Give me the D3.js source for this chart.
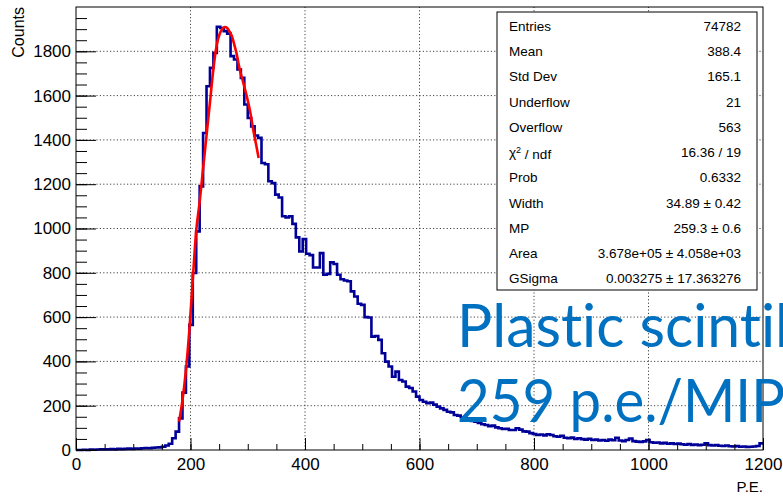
<!doctype html>
<html>
<head>
<script src="https://cdnjs.cloudflare.com/ajax/libs/d3/7.8.5/d3.min.js"></script>
<style>
body { margin: 0; background: #fff; }
text { font-family: "Liberation Sans", Arial, sans-serif; }
.grid line { stroke: #444; stroke-width: 1px; stroke-dasharray: 1.2,2.2; }
.axis path { display: none; }
.axis line { stroke: #000; stroke-width: 1px; }
.axis text { font-size: 17px; fill: #000; }
.stats text { font-size: 13.5px; fill: #000; }
.hist { fill: none; stroke: #000099; stroke-width: 2.6px; }
.fit { fill: none; stroke: #ff0000; stroke-width: 2.6px; }
.overlay { font-family: Lato, "Open Sans", sans-serif; fill: #0070c0; font-size: 60px; font-variant-ligatures: none; }
</style>
</head>
<body>
<svg id="chart" width="783" height="499"></svg>
<script>
// histogram: 200 bins of 6 p.e. from 0 to 1200
var binStart = 0, binWidth = 6;
var counts = [
  0,0,1,0,2,1,2,3,2,3,4,3,5,4,5,6,5,7,6,8,9,8,10,11,12,
  15,20,28,53,83,
  143,259,377,565,799,987,1190,1431,1642,1725,1793,
  1911,1905,1891,1880,1778,1763,1718,1680,1560,1499,1461,1420,1409,
  1296,1290,1213,1205,1153,1140,1055,1050,1055,1021,960,896,952,886,880,824,824,889,791,795,
  847,840,791,771,765,762,716,693,660,655,600,598,512,515,497,437,399,377,331,354,
  316,309,286,280,264,241,
  226,218,211,214,205,196,188,181,173,170,
  158,155,148,143,140,131,128,122,116,113,
  108,110,102,98,95,96,90,90,98,92,
  84,83,76,72,68,70,66,71,68,62,
  60,64,55,53,56,50,53,49,47,51,
  45,47,43,45,42,47,44,55,43,40,
  45,52,40,38,36,39,45,35,33,34,
  30,32,28,30,27,29,26,24,27,23,
  25,22,24,30,22,20,22,19,18,20,
  17,16,18,15,16,14,15,16,18,30
];

// Landau (x) Gauss fit curve
var fitX = [180,186,192,198,204,210,216,222,228,234,240,244,248,252,256,260,264,268,272,276,280,286,292,298,304,310,316,319];
var fitY = [128,225,360,540,770,990,1120,1270,1420,1570,1720,1800,1853,1885,1903,1910,1905,1890,1870,1835,1795,1718,1660,1600,1530,1440,1360,1318];

var xTicks = [0,200,400,600,800,1000,1200];
var xMinor = d3.range(0, 1201, 50);
var yTicks = [0,200,400,600,800,1000,1200,1400,1600,1800];
var yMinor = d3.range(0, 2000, 50);

var statLabels = ["Entries","Mean","Std Dev","Underflow","Overflow","chi2","Prob","Width","MP","Area","GSigma"];
var statValues = ["74782","388.4","165.1","21","563","16.36 / 19","0.6332","34.89 \u00b1 0.42","259.3 \u00b1 0.6","3.678e+05 \u00b1 4.058e+03","0.003275 \u00b1 17.363276"];

var noteLines = ["Plastic scintil", "259 p.e./MIP"];

var svg = d3.select("#chart");
var x = d3.scaleLinear().domain([0, 1200]).range([76, 763]);
var y = d3.scaleLinear().domain([0, 2000]).range([450, 7]);

// grid
var grid = svg.append("g").attr("class", "grid");
grid.selectAll("line.v").data(xTicks.slice(1, -1)).enter().append("line")
  .attr("x1", d => x(d)).attr("x2", d => x(d)).attr("y1", y(0)).attr("y2", y(2000));
grid.selectAll("line.h").data(yTicks.slice(1)).enter().append("line")
  .attr("y1", d => y(d)).attr("y2", d => y(d)).attr("x1", x(0)).attr("x2", x(1200));

// histogram
var pts = counts.map((c, i) => ({x: binStart + i * binWidth, y: c}));
pts.push({x: binStart + counts.length * binWidth, y: counts[counts.length - 1]});
svg.append("path").attr("class", "hist")
  .attr("d", d3.line().x(d => x(d.x)).y(d => y(d.y)).curve(d3.curveStepAfter)(pts));

// fit
svg.append("path").attr("class", "fit")
  .attr("d", d3.line().x((d, i) => x(fitX[i])).y(d => y(d)).curve(d3.curveMonotoneX)(fitY));

// axes
svg.append("g").attr("class", "axis").attr("transform", "translate(0," + y(0) + ")")
  .call(d3.axisBottom(x).tickValues(xMinor).tickSize(-6).tickFormat(""));
svg.append("g").attr("class", "axis").attr("transform", "translate(0," + y(0) + ")")
  .call(d3.axisBottom(x).tickValues(xTicks).tickSize(-12).tickPadding(8).tickFormat(d3.format("d")));
svg.append("g").attr("class", "axis").attr("transform", "translate(" + x(0) + ",0)")
  .call(d3.axisLeft(y).tickValues(yMinor).tickSize(-11).tickFormat(""));
svg.append("g").attr("class", "axis").attr("transform", "translate(" + x(0) + ",0)")
  .call(d3.axisLeft(y).tickValues(yTicks).tickSize(-20).tickPadding(5).tickFormat(d3.format("d")));

// frame
svg.append("rect").attr("x", x(0)).attr("y", y(2000))
  .attr("width", x(1200) - x(0)).attr("height", y(0) - y(2000))
  .attr("fill", "none").attr("stroke", "#000").attr("stroke-width", 1);

// axis titles
svg.append("text").attr("transform", "translate(24," + y(2000) + ") rotate(-90)")
  .attr("text-anchor", "end").style("font-size", "16px").text("Counts");
svg.append("text").attr("x", x(1200)).attr("y", 492)
  .attr("text-anchor", "end").style("font-size", "15px").text("P.E.");

// stats box
var stats = svg.append("g").attr("class", "stats");
stats.append("rect").attr("x", 497).attr("y", 12).attr("width", 260).attr("height", 278)
  .attr("fill", "#fff").attr("stroke", "#000").attr("stroke-width", 1);
var rowY = d3.scalePoint().domain(statLabels).range([26, 278.5]);
statLabels.forEach(function (lab, i) {
  var t = stats.append("text").attr("x", 509).attr("y", rowY(lab)).attr("dy", "0.36em");
  if (lab === "chi2") {
    t.append("tspan").text("\u03c7");
    t.append("tspan").attr("dy", "-0.45em").style("font-size", "9px").text("2");
    t.append("tspan").attr("dy", "0.45em").text(" / ndf");
  } else {
    t.text(lab);
  }
  stats.append("text").attr("x", 741).attr("y", rowY(lab)).attr("dy", "0.36em")
    .attr("text-anchor", "end").text(statValues[i]);
});

// overlay note (cut at the right edge, as in the slide)
var noteW = [332, 328];
var noteBase = [347, 422];
noteLines.forEach(function (s, i) {
  svg.append("text").attr("class", "overlay").attr("x", 457).attr("y", noteBase[i])
    .attr("textLength", noteW[i]).attr("lengthAdjust", "spacingAndGlyphs").text(s);
});
</script>
</body>
</html>
